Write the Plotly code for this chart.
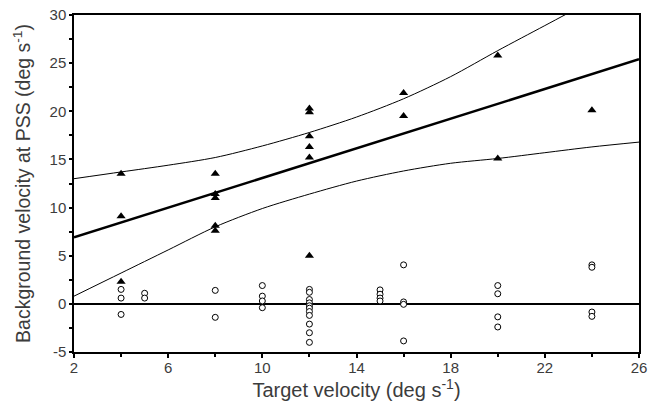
import plotly.graph_objects as go

# Filled triangles (one group of observations)
tri_x = [4, 4, 4,
         8, 8, 8, 8, 8,
         12, 12, 12, 12, 12, 12,
         16, 16,
         20, 20,
         24]
tri_y = [13.5, 9.1, 2.3,
         13.5, 11.4, 11.0, 8.1, 7.6,
         20.3, 19.9, 17.4, 16.3, 15.2, 5.0,
         21.9, 19.5,
         25.8, 15.1,
         20.1]

# Open circles (second group)
circ_x = [4, 4, 4,
          5, 5,
          8, 8,
          10, 10, 10, 10,
          12, 12, 12, 12, 12, 12, 12, 12, 12, 12, 12,
          15, 15, 15, 15,
          16, 16, 16, 16,
          20, 20, 20, 20,
          24, 24, 24, 24]
circ_y = [1.5, 0.6, -1.1,
          1.1, 0.6,
          1.4, -1.4,
          1.9, 0.8, 0.3, -0.4,
          1.5, 1.2, 0.45, 0.1, -0.2, -0.45, -0.8, -1.2, -2.1, -3.0, -4.0,
          1.45, 1.0, 0.6, 0.3,
          4.05, 0.2, -0.05, -3.85,
          1.9, 1.05, -1.35, -2.4,
          4.05, 3.8, -0.85, -1.3]

# Regression line (read at the axis ends)
reg_x = [2, 26]
reg_y = [6.9, 25.4]

# Confidence band
band_x = [2, 4, 6, 8, 10, 12, 14, 16, 18, 20, 22, 24, 26]
band_upper = [13.0, 13.7, 14.4, 15.2, 16.4, 17.8, 19.4, 21.3, 23.6, 26.3, 28.9, 31.5, 34.0]
band_lower = [0.8, 3.2, 5.6, 8.0, 9.9, 11.4, 12.75, 13.8, 14.6, 15.1, 15.7, 16.3, 16.8]

# Tick values
x_ticks = [2, 6, 10, 14, 18, 22, 26]
y_ticks = [-5, 0, 5, 10, 15, 20, 25, 30]

FONT = "Liberation Sans"
TXT = "#3c3c3c"

fig = go.Figure()
fig.add_trace(go.Scatter(x=band_x, y=band_upper, mode="lines",
                         line=dict(color="black", width=1, shape="spline", smoothing=0.8),
                         hoverinfo="skip"))
fig.add_trace(go.Scatter(x=band_x, y=band_lower, mode="lines",
                         line=dict(color="black", width=1, shape="spline", smoothing=0.8),
                         hoverinfo="skip"))
fig.add_trace(go.Scatter(x=reg_x, y=reg_y, mode="lines",
                         line=dict(color="black", width=2.5)))
fig.add_trace(go.Scatter(x=circ_x, y=circ_y, mode="markers",
                         marker=dict(symbol="circle", size=6, color="white",
                                     line=dict(color="black", width=1))))
fig.add_trace(go.Scatter(x=tri_x, y=tri_y, mode="markers",
                         marker=dict(symbol="triangle-up", size=8, color="black",
                                     line=dict(width=0))))

fig.update_layout(
    width=648, height=403,
    autosize=False,
    margin=dict(l=74, r=9, t=15, b=51, autoexpand=False),
    paper_bgcolor="white", plot_bgcolor="white",
    showlegend=False,
    font=dict(family=FONT, size=15, color=TXT),
)
fig.update_xaxes(
    range=[2, 26], tickvals=x_ticks, ticktext=[str(v) for v in x_ticks],
    automargin=False,
    showgrid=False, zeroline=False,
    showline=True, linecolor="black", linewidth=1.5, mirror=True,
    ticks="outside", ticklen=4, tickwidth=2, tickcolor="black",
    minor=dict(dtick=2, tick0=2, ticks="outside", ticklen=3, tickwidth=1.5, tickcolor="black"),
    tickfont=dict(family=FONT, size=15, color=TXT),
    ticklabelstandoff=-3,
    title=dict(text="Target velocity (deg s<sup>-1</sup>)", standoff=4,
               font=dict(family=FONT, size=20, color=TXT)),
)
fig.update_yaxes(
    range=[-5, 30], tickvals=y_ticks, ticktext=[str(v) for v in y_ticks],
    automargin=False,
    showgrid=False,
    zeroline=True, zerolinecolor="black", zerolinewidth=2,
    showline=True, linecolor="black", linewidth=1.5, mirror=True,
    ticks="outside", ticklen=3, tickwidth=2, tickcolor="black",
    minor=dict(dtick=2.5, tick0=0, ticks="outside", ticklen=3, tickwidth=1.5, tickcolor="black"),
    tickfont=dict(family=FONT, size=15, color=TXT),
    title=dict(text="Background velocity at PSS (deg s<sup>-1</sup>)", standoff=14,
               font=dict(family=FONT, size=19.5, color=TXT)),
)

fig.write_html("out.html",
               config={"displayModeBar": False},
               post_script="document.body.style.margin='0px';document.body.style.overflow='hidden';")
